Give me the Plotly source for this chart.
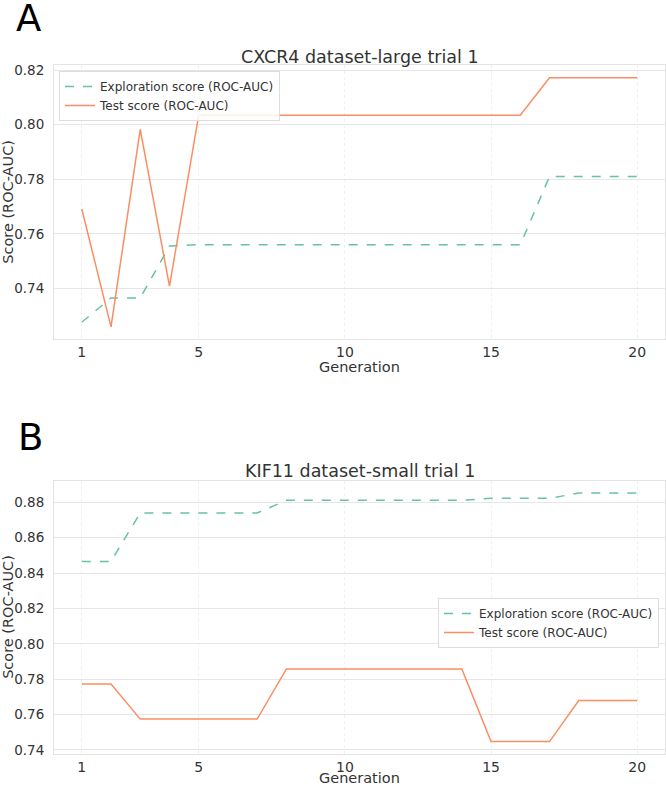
import plotly.graph_objects as go

generations = list(range(1, 21))

# Panel A: CXCR4 dataset-large trial 1
cxcr4_exploration = [0.7276, 0.7365, 0.7365, 0.7555, 0.7560, 0.7560, 0.7560, 0.7560, 0.7560, 0.7560,
                     0.7560, 0.7560, 0.7560, 0.7560, 0.7560, 0.7560, 0.7810, 0.7810, 0.7810, 0.7810]
cxcr4_test = [0.7691, 0.7259, 0.7983, 0.7408, 0.8035, 0.8035, 0.8035, 0.8035, 0.8035, 0.8035,
              0.8035, 0.8035, 0.8035, 0.8035, 0.8035, 0.8035, 0.8172, 0.8172, 0.8172, 0.8172]

# Panel B: KIF11 dataset-small trial 1
kif11_exploration = [0.8466, 0.8466, 0.8740, 0.8740, 0.8740, 0.8740, 0.8740, 0.8811, 0.8811, 0.8811,
                     0.8811, 0.8811, 0.8811, 0.8811, 0.8823, 0.8823, 0.8823, 0.8852, 0.8852, 0.8852]
kif11_test = [0.7773, 0.7773, 0.7574, 0.7574, 0.7574, 0.7574, 0.7574, 0.7858, 0.7858, 0.7858,
              0.7858, 0.7858, 0.7858, 0.7858, 0.7447, 0.7447, 0.7447, 0.7679, 0.7679, 0.7679]

titles = ["CXCR4 dataset-large trial 1", "KIF11 dataset-small trial 1"]
panel_labels = ["A", "B"]
series_names = ["Exploration score (ROC-AUC)", "Test score (ROC-AUC)"]
x_title = "Generation"
y_title = "Score (ROC-AUC)"
x_ticks = [1, 5, 10, 15, 20]
y_ticks_a = [0.74, 0.76, 0.78, 0.80, 0.82]
y_ticks_b = [0.74, 0.76, 0.78, 0.80, 0.82, 0.84, 0.86, 0.88]

GREEN = "#66c2a5"
ORANGE = "#fc8d62"
FONT = "DejaVu Sans"
TXT = "#333333"

W, H = 666, 787
def px(yp):
    return 1 - yp / H

fig = go.Figure()

fig.add_trace(go.Scatter(x=generations, y=cxcr4_exploration, mode="lines", name=series_names[0],
                         line=dict(color=GREEN, width=1.5, dash="dash"), xaxis="x", yaxis="y", legend="legend"))
fig.add_trace(go.Scatter(x=generations, y=cxcr4_test, mode="lines", name=series_names[1],
                         line=dict(color=ORANGE, width=1.5), xaxis="x", yaxis="y", legend="legend"))
fig.add_trace(go.Scatter(x=generations, y=kif11_exploration, mode="lines", name=series_names[0],
                         line=dict(color=GREEN, width=1.5, dash="dash"), xaxis="x2", yaxis="y2", legend="legend2"))
fig.add_trace(go.Scatter(x=generations, y=kif11_test, mode="lines", name=series_names[1],
                         line=dict(color=ORANGE, width=1.5), xaxis="x2", yaxis="y2", legend="legend2"))

def yrange(a, b):
    lo = min(min(a), min(b)); hi = max(max(a), max(b))
    m = (hi - lo) * 0.05
    return [lo - m, hi + m]

xdom = [54 / W, 665 / W]
common_x = dict(range=[0.05, 20.95], tickvals=x_ticks, showgrid=True, gridcolor="#efefef", griddash="dot",
                gridwidth=1, zeroline=False, showline=True, linecolor="#e3e3e3", linewidth=1, mirror=True,
                tickfont=dict(family=FONT, size=14, color=TXT), ticks="", ticklabelstandoff=0,
                automargin=False)
common_y = dict(showgrid=True, gridcolor="#e6e6e6", gridwidth=1, zeroline=False, showline=True,
                linecolor="#e3e3e3", linewidth=1, mirror=True, tickformat=".2f",
                tickfont=dict(family=FONT, size=13.5, color=TXT), ticks="", ticklabelstandoff=6,
                automargin=False)

ydomA = [px(339.3), px(65.3)]
ydomB = [px(754), px(480.7)]

leg_common = dict(bgcolor="rgba(255,255,255,0.85)", bordercolor="#dddddd", borderwidth=1,
                  font=dict(family=FONT, size=12, color=TXT), tracegroupgap=0, itemwidth=30)

ann = []
xc = 0.5 * (xdom[0] + xdom[1])
for t, yp in zip(titles, [57, 471]):
    ann.append(dict(text=t, x=xc, y=px(yp), xref="paper", yref="paper", showarrow=False,
                    xanchor="center", yanchor="middle", font=dict(family=FONT, size=17.5, color=TXT)))
for lab, xp, yp in zip(panel_labels, [14, 16], [19, 437]):
    ann.append(dict(text=lab, x=xp / W, y=px(yp), xref="paper", yref="paper", showarrow=False,
                    xanchor="left", yanchor="middle", font=dict(family=FONT, size=37, color="black")))
for yp in [367, 778]:
    ann.append(dict(text=x_title, x=xc, y=px(yp), xref="paper", yref="paper", showarrow=False,
                    xanchor="center", yanchor="middle", font=dict(family=FONT, size=14.5, color=TXT)))
for dom in [ydomA, ydomB]:
    ann.append(dict(text=y_title, x=8.5 / W, y=0.5 * (dom[0] + dom[1]), xref="paper", yref="paper",
                    showarrow=False, textangle=-90, xanchor="center", yanchor="middle",
                    font=dict(family=FONT, size=14.5, color=TXT)))

fig.update_layout(
    width=W, height=H,
    margin=dict(l=0, r=0, t=0, b=0),
    paper_bgcolor="white", plot_bgcolor="white",
    font=dict(family=FONT, color=TXT),
    xaxis=dict(domain=xdom, anchor="y", **common_x),
    yaxis=dict(domain=ydomA, anchor="x", range=yrange(cxcr4_exploration, cxcr4_test),
               tickvals=y_ticks_a, **common_y),
    xaxis2=dict(domain=xdom, anchor="y2", **common_x),
    yaxis2=dict(domain=ydomB, anchor="x2", range=yrange(kif11_exploration, kif11_test),
                tickvals=y_ticks_b, **common_y),
    legend=dict(x=59 / W, y=px(71), xanchor="left", yanchor="top", **leg_common),
    legend2=dict(x=659 / W, y=px(598), xanchor="right", yanchor="top", **leg_common),
    annotations=ann,
)

fig.write_html("out.html")
